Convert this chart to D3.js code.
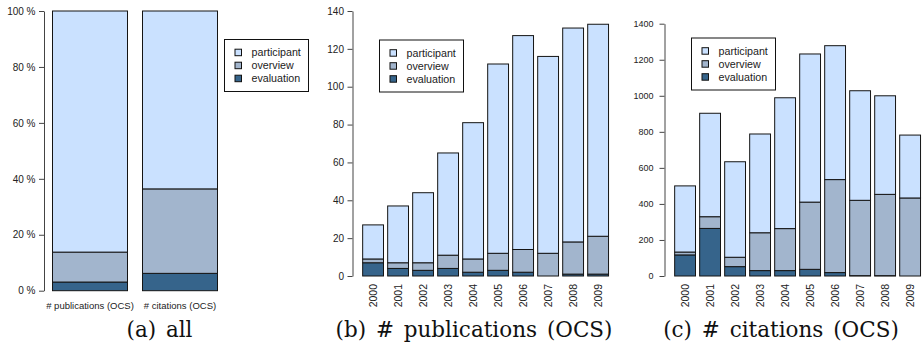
<!DOCTYPE html>
<html>
<head>
<meta charset="utf-8">
<script src="https://cdn.jsdelivr.net/npm/d3@7"></script>
<style>
  html, body { margin: 0; padding: 0; background: #fff; }
  svg { display: block; }
  .sans { font-family: "Liberation Sans", Arial, Helvetica, sans-serif; fill: #222; }
  .caption { font-family: "DejaVu Serif", "Liberation Serif", serif; fill: #111; word-spacing: 3px; }
</style>
</head>
<body>
<svg id="fig" width="923" height="348"></svg>
<script>
// Publication types: stacked from the bottom up
const segKeys = ["evaluation", "overview", "participant"];
const segColors = ["#36648B", "#A2B5CD", "#CAE1FF"];
const legendLabels = ["participant", "overview", "evaluation"];

// (a) share of all publications / citations, in percent
const allCategories = ["# publications (OCS)", "# citations (OCS)"];
const allEvaluation = [3.1, 6.2];
const allOverview = [10.7, 30.2];
const allParticipant = [86.2, 63.6];
const pctTicks = [0, 20, 40, 60, 80, 100];

// (b) publications per year
const years = ["2000", "2001", "2002", "2003", "2004", "2005", "2006", "2007", "2008", "2009"];
const pubEvaluation = [7, 4, 3, 4, 2, 3, 2, 0, 1, 1];
const pubOverview = [2, 3, 4, 7, 7, 9, 12, 12, 17, 20];
const pubParticipant = [18, 30, 37, 54, 72, 100, 113, 104, 113, 112];
const pubTicks = [0, 20, 40, 60, 80, 100, 120, 140];

// (c) citations per year
const citEvaluation = [117, 264, 52, 30, 30, 37, 19, 2, 2, 0];
const citOverview = [16, 65, 52, 210, 233, 373, 516, 418, 451, 433];
const citParticipant = [367, 574, 530, 548, 726, 822, 743, 608, 547, 349];
const citTicks = [0, 200, 400, 600, 800, 1000, 1200, 1400];

const captions = ["(a) all", "(b) # publications (OCS)", "(c) # citations (OCS)"];

const svg = d3.select("#fig");

function drawPanel(cfg) {
  const g = svg.append("g");
  const rows = cfg.categories.map((c, i) => ({
    cat: c,
    evaluation: cfg.evaluation[i],
    overview: cfg.overview[i],
    participant: cfg.participant[i]
  }));
  const stacked = d3.stack().keys(segKeys)(rows);

  const x = d3.scaleBand()
    .domain(cfg.categories)
    .range(cfg.xRange)
    .paddingInner(1 / 6)
    .paddingOuter(1 / 6);
  const y = d3.scaleLinear().domain([0, d3.max(cfg.ticks)]).range(cfg.yRange);

  // stacked bars
  g.selectAll("g.layer")
    .data(stacked)
    .join("g")
    .attr("class", "layer")
    .attr("fill", (d, i) => segColors[i])
    .selectAll("rect")
    .data(d => d)
    .join("rect")
    .attr("x", d => x(d.data.cat))
    .attr("width", x.bandwidth())
    .attr("y", d => y(d[1]))
    .attr("height", d => Math.max(0, y(d[0]) - y(d[1])))
    .attr("stroke", "#141414")
    .attr("stroke-width", 1);

  // y axis
  const ax = g.append("g")
    .attr("transform", `translate(${cfg.axisX},0)`)
    .call(d3.axisLeft(y)
      .tickValues(cfg.ticks)
      .tickFormat(cfg.tickFormat)
      .tickSize(5)
      .tickSizeOuter(0)
      .tickPadding(cfg.tickPad));
  ax.select(".domain").attr("stroke", "#444");
  ax.selectAll(".tick line").attr("stroke", "#444");
  ax.selectAll(".tick text")
    .attr("class", "sans")
    .style("font-size", cfg.tickFont + "px")
    .attr("fill", "#222");

  // category labels under the bars
  if (cfg.rotateLabels) {
    g.selectAll("text.cat")
      .data(cfg.categories)
      .join("text")
      .attr("class", "sans cat")
      .attr("transform", d => `translate(${x(d) + x.bandwidth() / 2},${cfg.labelY}) rotate(-90)`)
      .attr("text-anchor", "end")
      .attr("dy", "0.35em")
      .style("font-size", "10.5px")
      .text(d => d);
  } else {
    g.selectAll("text.cat")
      .data(cfg.categories)
      .join("text")
      .attr("class", "sans cat")
      .attr("x", d => x(d) + x.bandwidth() / 2)
      .attr("y", cfg.labelY)
      .attr("text-anchor", "middle")
      .style("font-size", "9.5px")
      .text(d => d);
  }

  // legend
  const lg = g.append("g").attr("transform", `translate(${cfg.legend[0]},${cfg.legend[1]})`);
  lg.append("rect")
    .attr("x", 0.5).attr("y", 0.5)
    .attr("width", 84).attr("height", 52)
    .attr("fill", "#fff")
    .attr("stroke", "#111")
    .attr("stroke-width", 1);
  legendLabels.forEach((lab, i) => {
    const cy = 13.5 + i * 13;
    lg.append("rect")
      .attr("x", 11).attr("y", cy - 3.3)
      .attr("width", 6.5).attr("height", 6.5)
      .attr("fill", segColors[segKeys.indexOf(lab)])
      .attr("stroke", "#111")
      .attr("stroke-width", 1);
    lg.append("text")
      .attr("class", "sans")
      .attr("x", 27.5).attr("y", cy + 3.8)
      .style("font-size", "10.7px")
      .text(lab);
  });

  // caption
  svg.append("text")
    .attr("class", "caption")
    .attr("x", cfg.captionX)
    .attr("y", 337)
    .attr("text-anchor", "middle")
    .style("font-size", "21.5px")
    .text(cfg.caption);
}

drawPanel({
  categories: allCategories,
  evaluation: allEvaluation,
  overview: allOverview,
  participant: allParticipant,
  ticks: pctTicks,
  tickFormat: d => d + " %",
  tickFont: 10,
  tickPad: 3.5,
  xRange: [37.5, 232.5],
  yRange: [290.7, 11],
  axisX: 44,
  rotateLabels: false,
  labelY: 308.5,
  legend: [224, 39],
  caption: captions[0],
  captionX: 159.5
});

drawPanel({
  categories: years,
  evaluation: pubEvaluation,
  overview: pubOverview,
  participant: pubParticipant,
  ticks: pubTicks,
  tickFormat: d3.format("d"),
  tickFont: 10,
  tickPad: 3.5,
  xRange: [358.5, 612.7],
  yRange: [276, 11],
  axisX: 352.5,
  rotateLabels: true,
  labelY: 284,
  legend: [379, 39.5],
  caption: captions[1],
  captionX: 474
});

drawPanel({
  categories: years,
  evaluation: citEvaluation,
  overview: citOverview,
  participant: citParticipant,
  ticks: citTicks,
  tickFormat: d3.format("d"),
  tickFont: 9,
  tickPad: 6,
  xRange: [670.5, 924.7],
  yRange: [276, 23.7],
  axisX: 664.5,
  rotateLabels: true,
  labelY: 284,
  legend: [691, 37.5],
  caption: captions[2],
  captionX: 781
});
</script>
</body>
</html>
